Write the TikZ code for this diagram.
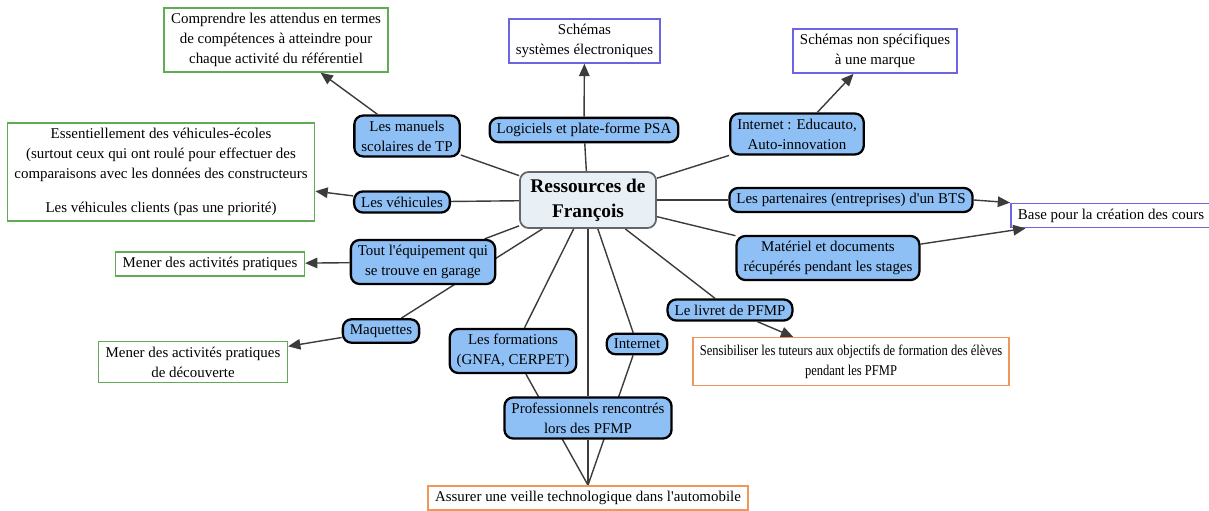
\documentclass[tikz,border=0pt]{standalone}
\usepackage{fontspec}
\setmainfont{Liberation Serif}[Ligatures=TeXOff]
\newfontfamily\narrowserif{Liberation Serif}[FakeStretch=0.84, Ligatures=TeXOff]
\usetikzlibrary{arrows.meta,backgrounds}

\definecolor{linkblue}{RGB}{142,192,245}
\definecolor{rootfill}{RGB}{233,240,245}
\definecolor{goalgreen}{RGB}{96,172,84}
\definecolor{goalviolet}{RGB}{110,100,225}
\definecolor{goalorange}{RGB}{240,150,90}
\definecolor{edgegray}{RGB}{60,60,60}

\tikzset{
    root/.style={draw=gray!80!black, fill=rootfill, line width=1pt, rounded corners=5pt,
        align=center, font=\fontsize{11}{14}\selectfont\bfseries, inner xsep=6pt, inner ysep=4pt},
    link/.style={draw=black, fill=linkblue, line width=1.3pt, rounded corners=5pt,
        align=center, inner xsep=4pt, inner ysep=3pt},
    res/.style={draw=#1, fill=white, line width=0.9pt, align=center, inner xsep=4pt, inner ysep=3pt},
    edge/.style={draw=edgegray, line width=0.8pt},
    arr/.style={edge, -{Triangle[length=7pt,width=6pt]}},
}

\begin{document}
\begin{tikzpicture}[x=0.02cm, y=-0.02cm, font=\fontsize{8.5}{11.3}\selectfont]
    \useasboundingbox (0,0) rectangle (1209,510);

    % Centre
    \node[root] (res) at (588,200) {Ressources de\\François};

    % Ressources
    \node[link] (manuels) at (407,136) {Les manuels\\scolaires de TP};
    \node[link] (logiciels) at (584,130) {Logiciels et plate-forme PSA};
    \node[link] (educauto) at (797,134) {Internet : Educauto,\\Auto-innovation};
    \node[link] (vehicules) at (402,202) {Les véhicules};
    \node[link] (partenaires) at (851,200) {Les partenaires (entreprises) d'un BTS};
    \node[link] (materiel) at (828,258) {Matériel et documents\\récupérés pendant les stages};
    \node[link] (equipement) at (423,262) {Tout l'équipement qui\\se trouve en garage};
    \node[link] (maquettes) at (381,331) {Maquettes};
    \node[link] (formations) at (513,351) {Les formations\\(GNFA, CERPET)};
    \node[link] (internet) at (637,344) {Internet};
    \node[link] (livret) at (730,310) {Le livret de PFMP};
    \node[link] (pros) at (588,418) {Professionnels rencontrés\\lors des PFMP};

    % Usages
    \node[res=goalgreen] (comprendre) at (276,40) {Comprendre les attendus en termes\\de compétences à atteindre pour\\chaque activité du référentiel};
    \node[res=goalviolet] (schemas) at (584.5,41) {Schémas\\systèmes électroniques};
    \node[res=goalviolet] (nonspec) at (875,51) {Schémas non spécifiques\\à une marque};
    \node[res=goalgreen] (essentiel) at (161,172) {Essentiellement des véhicules-écoles\\(surtout ceux qui ont roulé pour effectuer des\\comparaisons avec les données des constructeurs\\[8pt]Les véhicules clients (pas une priorité)};
    \node[res=goalviolet] (base) at (1111,215.5) {Base pour la création des cours};
    \node[res=goalgreen] (pratiques) at (210,264) {Mener des activités pratiques};
    \node[res=goalgreen] (decouverte) at (193,362) {Mener des activités pratiques\\de découverte};
    \node[res=goalorange, font=\fontsize{8.5}{11.3}\narrowserif, inner ysep=4pt] (sensibiliser) at (851,361.5) {Sensibiliser les tuteurs aux objectifs de formation des élèves\\pendant les PFMP};
    \node[res=goalorange] (veille) at (588,498) {Assurer une veille technologique dans l'automobile};

    % Liens
    \begin{scope}[on background layer]
        \foreach \n in {manuels,logiciels,educauto,vehicules,partenaires,materiel,
                equipement,maquettes,formations,internet,livret,pros} {
            \draw[edge] (res) -- (\n);
        }
        \foreach \n in {pros,formations,internet} {
            \draw[edge] (\n) -- (veille.north);
        }
    \end{scope}

    % Fleches
    \draw[arr] (manuels) -- (comprendre);
    \draw[arr] (logiciels) -- (schemas);
    \draw[arr] (educauto) -- (nonspec);
    \draw[arr] (vehicules) -- (essentiel);
    \draw[arr] (equipement) -- (pratiques);
    \draw[arr] (maquettes) -- (decouverte);
    \draw[arr] (partenaires.east) -- (base.north west);
    \draw[arr] (materiel) -- (base);
    \draw[arr] (livret) -- (sensibiliser);
\end{tikzpicture}
\end{document}
